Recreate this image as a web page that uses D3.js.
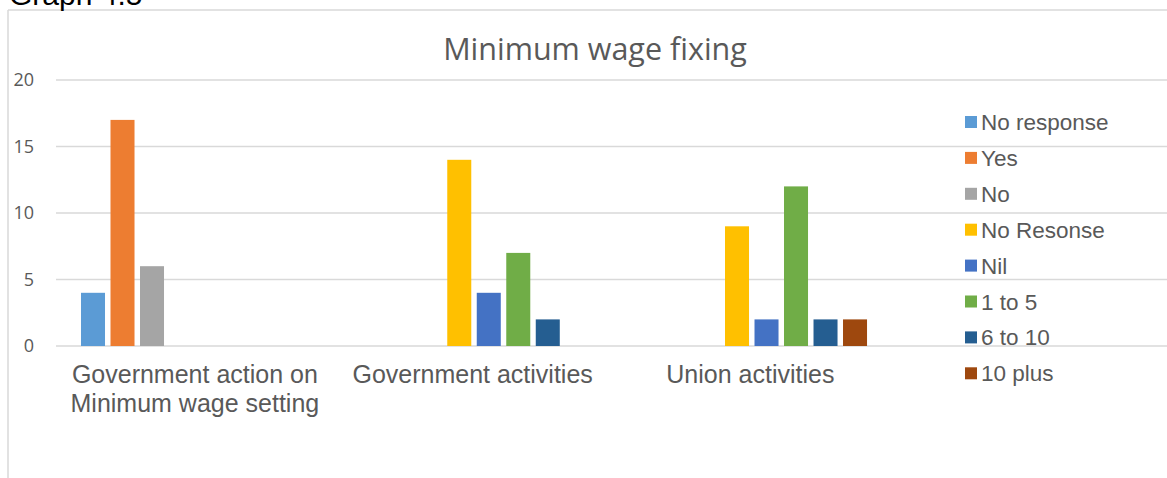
<!DOCTYPE html>
<html>
<head>
<meta charset="utf-8">
<script src="https://cdn.jsdelivr.net/npm/d3@7"></script>
<style>
  html, body { margin: 0; padding: 0; background: #fff; }
  svg { display: block; }
</style>
</head>
<body>
<svg id="chart" width="1167" height="478"></svg>
<script>
// Survey categories (the fourth slot is left empty, as in the workbook)
const categories = [
  ["Government action on", "Minimum wage setting"],
  ["Government activities"],
  ["Union activities"],
  [""]
];
const seriesNames = ["No response", "Yes", "No", "No Resonse", "Nil", "1 to 5", "6 to 10", "10 plus"];
const seriesColors = ["#5B9BD5", "#ED7D31", "#A5A5A5", "#FFC000", "#4472C4", "#70AD47", "#255E91", "#9E480E"];

// Responses per series, one entry per category (null = no bar)
const noResponse = [4, null, null, null];
const yes        = [17, null, null, null];
const no         = [6, null, null, null];
const noResonse  = [null, 14, 9, null];
const nil        = [null, 4, 2, null];
const oneToFive  = [null, 7, 12, null];
const sixToTen   = [null, 2, 2, null];
const tenPlus    = [null, null, 2, null];
const seriesValues = [noResponse, yes, no, noResonse, nil, oneToFive, sixToTen, tenPlus];

const yTicks = [0, 5, 10, 15, 20];

const svg = d3.select("#chart");
const W = 1167, H = 478;

// Outer frame (top and left edges visible)
svg.append("line").attr("x1", 8).attr("x2", W).attr("y1", 10).attr("y2", 10)
  .attr("stroke", "#D9D9D9").attr("stroke-width", 1.5);
svg.append("line").attr("x1", 8).attr("x2", 8).attr("y1", 10).attr("y2", H)
  .attr("stroke", "#D9D9D9").attr("stroke-width", 1.5);

// Caption above the frame (runs off the top of the page)
svg.append("text").attr("x", 9).attr("y", 5)
  .attr("font-family", "Liberation Sans, Arial, sans-serif")
  .attr("font-size", 30).attr("fill", "#000")
  .text("Graph 4.5");

const plot = { left: 56, right: W, top: 80, bottom: 346 };

const y = d3.scaleLinear().domain([0, 20]).range([plot.bottom, plot.top]);
const x = d3.scaleBand().domain(d3.range(categories.length))
  .range([plot.left, plot.right]).padding(0);
const bw = x.bandwidth();
const xs = d3.scaleBand().domain(d3.range(seriesNames.length))
  .range([bw * 0.09, bw * 0.92]).paddingInner(0.186).paddingOuter(0);

// Gridlines
svg.append("g").selectAll("line").data(yTicks).join("line")
  .attr("x1", plot.left).attr("x2", plot.right)
  .attr("y1", d => y(d)).attr("y2", d => y(d))
  .attr("stroke", "#D9D9D9").attr("stroke-width", 1.5);

// Y axis labels
const yAxis = d3.axisLeft(y).tickValues(yTicks).tickSize(0).tickPadding(0);
const gy = svg.append("g").attr("transform", `translate(34,0)`).call(yAxis);
gy.select(".domain").remove();
gy.selectAll("text")
  .attr("font-family", "Open Sans, sans-serif")
  .attr("font-size", 18).attr("fill", "#595959");

// Bars
const bars = [];
seriesValues.forEach((vals, s) => {
  vals.forEach((v, c) => { if (v != null) bars.push({ s, c, v }); });
});
svg.append("g").selectAll("rect").data(bars).join("rect")
  .attr("x", d => x(d.c) + xs(d.s))
  .attr("width", xs.bandwidth())
  .attr("y", d => y(d.v))
  .attr("height", d => y(0) - y(d.v))
  .attr("fill", d => seriesColors[d.s]);

// Category labels
const xl = svg.append("g");
categories.forEach((lines, i) => {
  const t = xl.append("text")
    .attr("x", x(i) + bw / 2).attr("y", 383)
    .attr("text-anchor", "middle")
    .attr("font-family", "Liberation Sans, Arial, sans-serif")
    .attr("font-size", 25).attr("fill", "#595959");
  lines.forEach((ln, k) => {
    t.append("tspan").attr("x", x(i) + bw / 2).attr("dy", k === 0 ? 0 : 29).text(ln);
  });
});

// Title
svg.append("text").attr("x", 595).attr("y", 60)
  .attr("text-anchor", "middle")
  .attr("font-family", "Open Sans, sans-serif")
  .attr("font-size", 30.5).attr("fill", "#595959")
  .text("Minimum wage fixing");

// Legend
const lg = svg.append("g").attr("transform", "translate(965,122)");
const items = lg.selectAll("g").data(seriesNames).join("g")
  .attr("transform", (d, i) => `translate(0,${i * 35.9})`);
items.append("rect").attr("x", 0).attr("y", -6).attr("width", 12).attr("height", 12)
  .attr("fill", (d, i) => seriesColors[i]);
items.append("text").attr("x", 16).attr("y", 8)
  .attr("font-family", "Liberation Sans, Arial, sans-serif")
  .attr("font-size", 22.5).attr("fill", "#595959")
  .text(d => d);
</script>
</body>
</html>
